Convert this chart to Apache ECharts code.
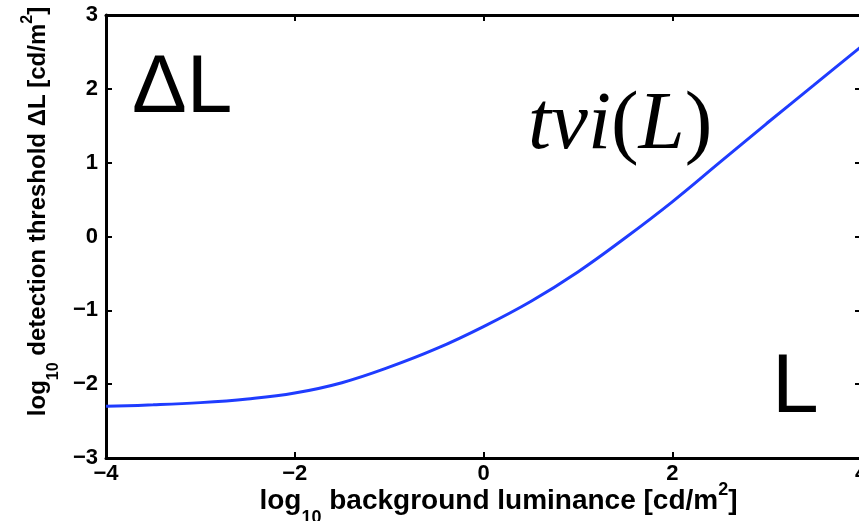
<!DOCTYPE html>
<html>
<head>
<meta charset="utf-8">
<script src="https://cdn.jsdelivr.net/npm/echarts@6/dist/echarts.min.js"></script>
<style>
	html, body { margin: 0; padding: 0; background: #fff; }
	#chart { width: 859px; height: 521px; }
</style>
</head>
<body>
<div id="chart"></div>
<script>
// log10 background luminance
var lumX = [-4, -3.5, -3, -2.5, -2, -1.5, -1, -0.5, 0, 0.5, 1, 1.5, 2, 2.5, 3, 3.5, 4];
// log10 detection threshold
var thrY = [-2.30, -2.28, -2.25, -2.20, -2.12, -1.98, -1.77, -1.52, -1.22, -0.88, -0.48, -0.02, 0.47, 1.00, 1.53, 2.05, 2.57];
var xTicks = [-4, -2, 0, 2, 4];
var yTicks = [-3, -2, -1, 0, 1, 2, 3];

window.onload = function() {
	var chart = echarts.init(document.getElementById('chart'));
	var pts = lumX.map(function(x, i) { return [x, thrY[i]]; });
	var minus = function(v) { return String(v).replace('-', '\u2212'); };
	var font = 'Liberation Sans, Arial, sans-serif';
	var lineStyle = { color: '#000', width: 3 };
	var tick = { show: true, inside: true, length: 6, lineStyle: { width: 2, color: '#000' } };

	var option = {
		animation: false,
		grid: { left: 106, right: -2, top: 15, bottom: 63, outerBoundsMode: 'none' },
		xAxis: [{
			type: 'value', min: xTicks[0], max: xTicks[xTicks.length - 1], interval: 2,
			axisLine: { show: true, onZero: false, lineStyle: lineStyle },
			axisTick: tick,
			splitLine: { show: false },
			axisLabel: { formatter: minus, color: '#000', fontFamily: font, fontWeight: 'bold', fontSize: 22, margin: 5 },
			name: '{b|log}{s|10}{b| background luminance [cd/m}{p|2}{b|]}',
			nameLocation: 'middle', nameGap: 29, nameMoveOverlap: false,
			nameTextStyle: {
				verticalAlign: 'top',
				padding: [0, 0, 0, 30],
				rich: {
					b: { fontFamily: font, fontWeight: 'bold', fontSize: 28, color: '#000' },
					s: { fontFamily: font, fontWeight: 'bold', fontSize: 18, color: '#000', verticalAlign: 'bottom', padding: [0, 0, -12, 0] },
					p: { fontFamily: font, fontWeight: 'bold', fontSize: 18, color: '#000', verticalAlign: 'top', padding: [-6, 0, 0, 0] }
				}
			}
		}, {
			type: 'value', min: xTicks[0], max: xTicks[xTicks.length - 1], interval: 2, position: 'top',
			axisLine: { show: true, onZero: false, lineStyle: lineStyle },
			axisTick: tick,
			axisLabel: { show: false }, splitLine: { show: false }
		}],
		yAxis: [{
			type: 'value', min: yTicks[0], max: yTicks[yTicks.length - 1], interval: 1,
			axisLine: { show: true, onZero: false, lineStyle: lineStyle },
			axisTick: tick,
			splitLine: { show: false },
			axisLabel: { formatter: minus, color: '#000', fontFamily: font, fontWeight: 'bold', fontSize: 22, margin: 8 },
			name: '{b|log}{s|10}{b| detection threshold \u0394L [cd/m}{p|2}{b|]}',
			nameLocation: 'middle', nameGap: 55, nameRotate: 90,
			nameTextStyle: {
				padding: [0, 0, 0, 50],
				rich: {
					b: { fontFamily: font, fontWeight: 'bold', fontSize: 24, color: '#000' },
					s: { fontFamily: font, fontWeight: 'bold', fontSize: 16, color: '#000', verticalAlign: 'bottom', padding: [0, 0, -12, 0] },
					p: { fontFamily: font, fontWeight: 'bold', fontSize: 16, color: '#000', verticalAlign: 'top', padding: [-6, 0, 0, 0] }
				}
			}
		}, {
			type: 'value', min: yTicks[0], max: yTicks[yTicks.length - 1], interval: 1, position: 'right',
			axisLine: { show: true, onZero: false, lineStyle: lineStyle },
			axisTick: tick,
			axisLabel: { show: false }, splitLine: { show: false }
		}],
		series: [{
			type: 'line',
			data: pts,
			smooth: 0.4,
			showSymbol: false,
			lineStyle: { color: '#1f3cff', width: 3 }
		}],
		graphic: [{
			type: 'text', left: 132, top: 48,
			style: { text: '\u0394L', font: '82px Liberation Sans, Arial, sans-serif', fill: '#000' }
		}, {
			type: 'text', left: 528, top: 85,
			style: {
				text: '{i|tvi}{n|(}{i|L}{n|)}',
				rich: {
					i: { font: 'italic 83px Liberation Serif, Times New Roman, serif', fill: '#000' },
					n: { font: '83px Liberation Serif, Times New Roman, serif', fill: '#000' }
				}
			}
		}, {
			type: 'text', left: 772, top: 347,
			style: { text: 'L', font: '84px Liberation Sans, Arial, sans-serif', fill: '#000' }
		}]
	};
	chart.setOption(option);
};
</script>
</body>
</html>
